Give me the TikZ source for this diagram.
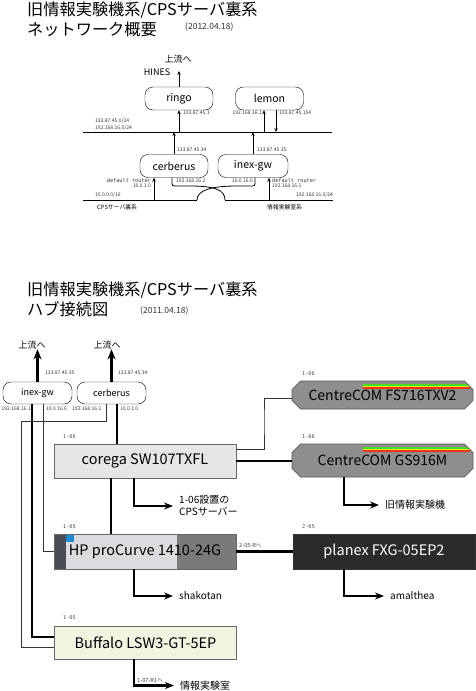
\documentclass[tikz,border=0pt]{standalone}
\usepackage{fontspec}
\setmainfont{Noto Sans CJK JP}
\newfontfamily\monofont{DejaVu Sans Mono}
\usetikzlibrary{arrows.meta,shapes.misc,positioning}

\definecolor{coregafill}{HTML}{E6E6E6}
\definecolor{ccfill}{HTML}{8E8E8E}
\definecolor{hpdark}{HTML}{4A4D55}
\definecolor{hplight}{HTML}{DCDCE0}
\definecolor{hpgray}{HTML}{7A7A7A}
\definecolor{hpblue}{HTML}{1E8CD2}
\definecolor{planexfill}{HTML}{2B2B2B}
\definecolor{buffalofill}{HTML}{F3F3E2}
\definecolor{ccgreen}{HTML}{44DD22}
\definecolor{ccyellow}{HTML}{EEEE11}
\definecolor{ccred}{HTML}{EE3311}

\begin{document}
\begin{tikzpicture}[x=1pt, y=-1pt,
    ttl/.style={anchor=west, inner sep=0pt, font=\fontsize{16.2}{18}\selectfont},
    datel/.style={anchor=west, inner sep=0pt, font=\fontsize{8.5}{10}\selectfont, text=black!80},
    host/.style={draw, rounded corners=8pt, minimum width=68pt, minimum height=23pt,
      inner sep=0pt, font=\fontsize{10.5}{12}\selectfont},
    host2/.style={host, minimum width=69pt, minimum height=22pt, font=\fontsize{9}{10}\selectfont},
    ip/.style={inner sep=0pt, font=\fontsize{5}{5}\selectfont, text=black!80},
    mono/.style={inner sep=0pt, font=\monofont\fontsize{5.2}{5.5}\selectfont, text=black!80},
    tag/.style={inner sep=0pt, anchor=west, font=\fontsize{5.6}{6}\selectfont, text=black!75},
    upl/.style={inner sep=0pt, font=\fontsize{9}{10}\selectfont},
    netl/.style={inner sep=0pt, font=\fontsize{5.8}{6}\selectfont},
    lan/.style={line width=0.9pt},
    wire/.style={line width=0.8pt},
    uparr/.style={wire, -{Stealth[length=4pt, width=3.4pt]}},
    sw/.style={draw=black!60, line width=0.8pt, minimum width=182pt, minimum height=34pt,
      inner sep=0pt, font=\fontsize{14.5}{16}\selectfont},
    cc/.style={sw, chamfered rectangle, chamfered rectangle xsep=5pt, fill=ccfill,
      draw=black!65, minimum width=181pt, font=\fontsize{14}{16}\selectfont,
      path picture={
        \foreach \c/\d in {ccgreen/4, ccyellow/5.5, ccred/7}
          \draw[\c, line width=1.5pt]
            ([xshift=-110pt, yshift=-\d pt]path picture bounding box.north east) --
            ([xshift=-3pt, yshift=-\d pt]path picture bounding box.north east);
      }},
    trunk/.style={line width=2.5pt},
    link/.style={line width=0.9pt, draw=black!80},
    toarr/.style={trunk, -{Stealth[length=9pt, width=7pt]}, shorten >=6pt},
    uparr2/.style={trunk, -{Stealth[length=10pt, width=8pt]}},
    loc/.style={mono, anchor=west, text=black!70},
    lbl/.style={inner sep=0pt, anchor=west, font=\fontsize{10}{12}\selectfont}]

  \useasboundingbox (0,0) rectangle (475,691);

  % ---- network overview (2012) ----
  \node[ttl] (t1a) at (27,10) {旧情報実験機系/CPSサーバ裏系};
  \node[ttl] (t1b) at (27,29) {ネットワーク概要};
  \node[datel] (d1) at (185,27) {(2012.04.18)};

  \node[host] (ringo) at (179,98.5) {ringo};
  \node[host] (lemon) at (269.5,98.5) {lemon};
  \node[host] (cerb) at (174,166) {cerberus};
  \node[host, minimum width=70pt] (inex) at (253,166) {inex-gw};

  % upstream
  \coordinate (hines) at (179,71);
  \draw[uparr] (ringo) -- (hines);
  \node[upl] (up1) at (178,59) {上流へ};
  \node[upl] (hinesl) at (157,72) {HINES};

  % global segment
  \coordinate (lanA-w) at (83,132);
  \coordinate (lanA-e) at (332,132);
  \draw[lan] (lanA-w) -- (lanA-e);
  \node[ip, anchor=west] (netA1) at (95,120.5) {133.87.45.0/24};
  \node[ip, anchor=west] (netA2) at (95,127.5) {192.168.16.0/24};

  \draw[uparr] (ringo |- lanA-w) -- (ringo);
  \node[ip, anchor=west] (ip-rg) at (183,113) {133.87.45.1};

  \coordinate (lm-a) at (264,132);
  \coordinate (lm-b) at (276,132);
  \draw[uparr] (lm-a) -- (lm-a |- lemon.south);
  \draw[uparr] (lm-b |- lemon.south) -- (lm-b);
  \node[ip, anchor=east] (ip-lm1) at (262,113) {192.168.16.1};
  \node[ip, anchor=west] (ip-lm2) at (279,113) {133.87.45.154};

  \draw[uparr] (cerb) -- (cerb |- lanA-w);
  \node[ip, anchor=west] (ip-cb1) at (177,150) {133.87.45.34};
  \draw[uparr] (inex) -- (inex |- lanA-w);
  \node[ip, anchor=west] (ip-ig1) at (257,150) {133.87.45.35};

  % lower segments
  \coordinate (cps-w) at (83,200);
  \coordinate (cps-e) at (197,200);
  \coordinate (jk-w) at (225,200);
  \coordinate (jk-e) at (333,200);
  \draw[lan] (cps-w) -- (cps-e);
  \draw[lan] (jk-w) -- (jk-e);
  \node[ip, anchor=west] (net-cps) at (95,195) {10.0.0.0/16};
  \node[ip, anchor=east] (net-jk) at (333,195) {192.168.16.0/24};
  \node[netl, anchor=west] (cpsl) at (97,207) {CPSサーバ裏系};
  \node[netl, anchor=west] (jkl) at (267,207) {情報実験室系};

  % default routers
  \coordinate (dr-c) at (154,200);
  \coordinate (dr-i) at (269,200);
  \draw[uparr] (dr-c) -- (dr-c |- cerb.south);
  \node[mono, anchor=east] (dr1) at (151,181) {default router};
  \node[ip, anchor=east] (dr1ip) at (151,186) {10.0.1.0};
  \draw[uparr] (dr-i) -- (dr-i |- inex.south);
  \node[mono, anchor=west] (dr2) at (272,181) {default router};
  \node[ip, anchor=west] (dr2ip) at (272,186) {192.168.16.1};

  % crossed links
  \draw[wire] ([xshift=-2pt]cerb.south) -- (172,181) .. controls (172,186) .. (177,186)
    -- (190,186) .. controls (215,186) and (225,190) .. (jk-w);
  \draw[wire] ([xshift=2pt]inex.south) -- (255,181) .. controls (255,186) .. (250,186)
    -- (237,186) .. controls (212,186) and (197,190) .. (cps-e);
  \node[ip, anchor=west] (ip-cb2) at (176,181) {192.168.16.2};
  \node[ip, anchor=east] (ip-ig2) at (253,181) {10.0.16.6};

  % ---- hub wiring (2011) ----
  \node[ttl] (t2a) at (27,290) {旧情報実験機系/CPSサーバ裏系};
  \node[ttl] (t2b) at (27,309) {ハブ接続図};
  \node[datel] (d2) at (140,311) {(2011.04.18)};

  \node[host2] (inex2) at (37.5,393) {inex-gw};
  \node[host2] (cerb2) at (111.5,393) {cerberus};
  \node[upl] (up2a) at (32,345) {上流へ};
  \node[upl] (up2b) at (107,345) {上流へ};
  \draw[uparr2] (inex2) -- (inex2 |- up2a.south);
  \draw[uparr2] (cerb2) -- (cerb2 |- up2b.south);
  \node[ip, anchor=west] (ip2-ig1) at (45,373) {133.87.45.35};
  \node[ip, anchor=west] (ip2-cb1) at (118,373) {133.87.45.34};
  \node[ip, anchor=east] (ip2-ig2) at (31,409) {192.168.16.1};
  \node[ip, anchor=west] (ip2-ig3) at (46,409) {10.0.16.6};
  \node[ip, anchor=west] (ip2-cb2) at (72,409) {192.168.16.2};
  \node[ip, anchor=west] (ip2-cb3) at (120,409) {10.0.1.0};

  % switches
  \node[sw, fill=coregafill] (corega) at (145,461) {corega SW107TXFL};
  \node[cc, minimum height=28pt] (fs716) at (382.5,395) {CentreCOM FS716TXV2};
  \node[cc, minimum height=33pt] (gs916) at (382.5,460.5) {CentreCOM GS916M};
  \node[sw, fill=hplight, minimum height=35pt,
    path picture={
      \fill[hpdark] (path picture bounding box.south west) rectangle
        ([xshift=12pt]path picture bounding box.north west);
      \fill[hpgray] ([xshift=-59pt]path picture bounding box.south east) rectangle
        (path picture bounding box.north east);
      \fill[hpblue] ([xshift=12pt]path picture bounding box.north west) rectangle
        ([xshift=20pt, yshift=-8pt]path picture bounding box.north west);
    }] (hp) at (145,551.5) {HP proCurve 1410-24G};
  \node[sw, fill=planexfill, draw=black!80, text=white, minimum height=35pt] (planex) at (384,551.5)
    {planex FXG-05EP2};
  \node[sw, fill=buffalofill, minimum height=33pt] (buffalo) at (145.5,642.5) {Buffalo LSW3-GT-5EP};

  \node[loc] (l-cg) at (63,437) {1-06};
  \node[loc] (l-fs) at (302,374) {1-06};
  \node[loc] (l-gs) at (302,437) {1-06};
  \node[loc] (l-hp) at (63,527) {1-05};
  \node[loc] (l-px) at (302,527) {2-05};
  \node[loc] (l-bf) at (63,618) {1-05};

  % gateway cables
  \coordinate (ig-a) at (32,404);
  \coordinate (ig-b) at (43,404);
  \coordinate (cb-a) at (106,404);
  \coordinate (cb-b) at (117,404);
  \coordinate (cb-turn) at (21,421);
  \draw[trunk] (ig-a) |- ([yshift=5.5pt]buffalo.west);
  \draw[link] (ig-b) |- (hp.west);
  \draw[link] (cb-a) |- (cb-turn) |- ([yshift=-4.5pt]buffalo.west);
  \draw[trunk] (cb-b) -- (cb-b |- corega.north);

  % switch cables
  \coordinate (fs-turn) at (264,420);
  \draw[link] ([yshift=12pt]corega.east) -| (fs-turn) |- ([yshift=-3pt]fs716.west);
  \draw[trunk] (corega.east) -- (corega.east -| gs916.west);
  \draw[trunk] ([xshift=-34pt]corega.south) -- ([xshift=-34pt]hp.north);
  \draw[trunk] (hp.east) -- (planex.west);
  \node[tag] (l-r) at (239,545) {2-05-Rへ};

  % leaves
  \node[lbl, align=left] (cpssrv) at (179,506) {1-06設置の\\CPSサーバー};
  \node[lbl] (kyu) at (385,505) {旧情報実験機};
  \node[lbl] (shakotan) at (179,596) {shakotan};
  \node[lbl] (amalthea) at (390,596) {amalthea};
  \node[lbl] (jikken) at (180,685.5) {情報実験室};
  \node[tag] (l-r1) at (137,680) {1-07-R1へ};

  \draw[toarr] ([xshift=-11pt]corega.south) |- (cpssrv.west);
  \draw[toarr] ([xshift=-38.5pt]gs916.south) |- (kyu.west);
  \draw[toarr] ([xshift=-11pt]hp.south) |- (shakotan.west);
  \draw[toarr] ([xshift=-40pt]planex.south) |- (amalthea.west);
  \draw[toarr] ([xshift=-11.5pt]buffalo.south) |- (jikken.west);
\end{tikzpicture}
\end{document}
